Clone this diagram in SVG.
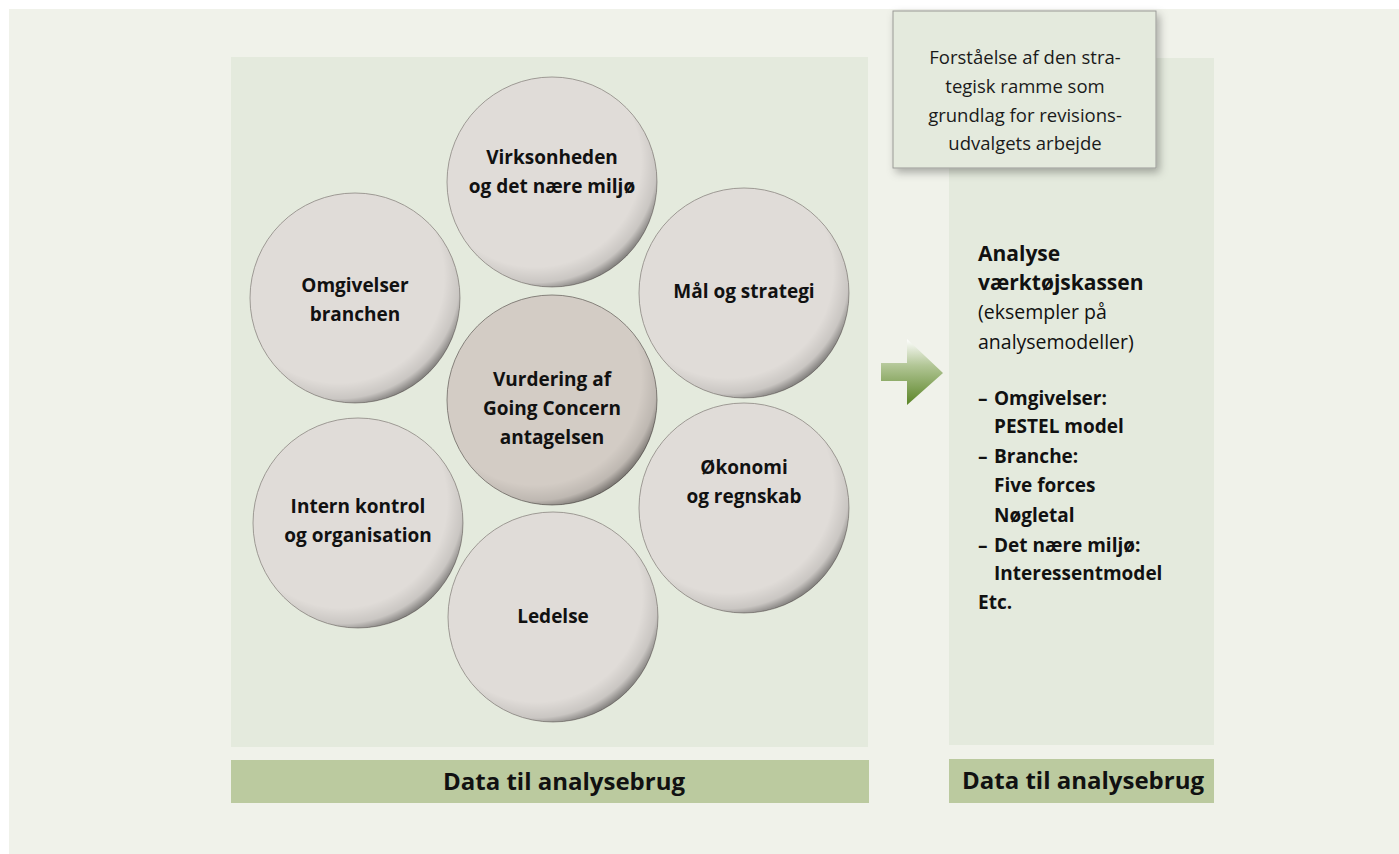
<svg xmlns="http://www.w3.org/2000/svg" width="1399" height="854" viewBox="0 0 1399 854">
  <style>
    .panel { fill: #E4EADD; }
    .bar { fill: #BBCA9F; }
    .bartext { font-family: "Open Sans", "Noto Sans", sans-serif; font-weight: 700; font-size: 24px; fill: #111; text-anchor: middle; }
    .ctext { font-family: "Open Sans", "Noto Sans", sans-serif; font-weight: 700; font-size: 19px; fill: #111; text-anchor: middle; }
    .boxtext { font-family: "Open Sans", "Noto Sans", sans-serif; font-size: 18.5px; fill: #1a1a1a; text-anchor: middle; }
    .rt { font-family: "Open Sans", "Noto Sans", sans-serif; font-size: 19.5px; fill: #111; }
    .rb { font-weight: 700; font-size: 19px; }
    .rh { font-weight: 700; font-size: 21px; }
    .disc { fill: #E0DCD8; stroke: #8C8782; stroke-width: 0.8; }
    .disc.core { fill: #D3CCC5; stroke: #6E6964; }
    .rim { fill: url(#rimShade); }
  </style>
  <defs>
    <!-- offset focus: shading gathers on the lower-right edge -->
    <radialGradient id="rimShade" cx="0.42" cy="0.40" r="0.63">
      <stop offset="0.80" stop-color="#000" stop-opacity="0"/>
      <stop offset="0.92" stop-color="#000" stop-opacity="0.10"/>
      <stop offset="1" stop-color="#000" stop-opacity="0.45"/>
    </radialGradient>
    <linearGradient id="arrowFill" x1="0" y1="339" x2="0" y2="405" gradientUnits="userSpaceOnUse">
      <stop offset="0" stop-color="#FFFFFF"/>
      <stop offset="0.4" stop-color="#B2C696"/>
      <stop offset="1" stop-color="#5B8527"/>
    </linearGradient>
    <filter id="boxShadow" x="-10%" y="-10%" width="125%" height="130%">
      <feDropShadow dx="3" dy="4" stdDeviation="4" flood-color="#000" flood-opacity="0.3"/>
    </filter>
  </defs>

  <!-- page background -->
  <rect x="0" y="0" width="1399" height="854" fill="#FFFFFF"/>
  <rect x="9" y="9" width="1390" height="845" fill="#F0F2EA"/>

  <!-- left panel and its caption bar -->
  <g id="data-panel-left">
    <rect class="panel" x="231" y="57" width="637" height="690"/>
    <rect class="bar" x="231" y="760" width="638" height="43"/>
    <text class="bartext" x="564" y="790">Data til analysebrug</text>
  </g>

  <!-- right panel and its caption bar -->
  <g id="data-panel-right">
    <rect class="panel" x="949" y="58" width="265" height="687"/>
    <rect class="bar" x="949" y="759" width="265" height="44"/>
    <text class="bartext" x="1083" y="789">Data til analysebrug</text>
  </g>

  <!-- ring of topics -->
  <g id="node-virksomheden">
    <circle class="disc" cx="552" cy="182" r="105"/>
    <circle class="rim" cx="552" cy="182" r="105"/>
    <text class="ctext" x="552" y="164">Virksonheden</text>
    <text class="ctext" x="552" y="193">og det nære miljø</text>
  </g>
  <g id="node-omgivelser">
    <circle class="disc" cx="355" cy="298" r="105"/>
    <circle class="rim" cx="355" cy="298" r="105"/>
    <text class="ctext" x="355" y="292">Omgivelser</text>
    <text class="ctext" x="355" y="321">branchen</text>
  </g>
  <g id="node-maal">
    <circle class="disc" cx="744" cy="293" r="105"/>
    <circle class="rim" cx="744" cy="293" r="105"/>
    <text class="ctext" x="744" y="298">Mål og strategi</text>
  </g>
  <g id="node-intern">
    <circle class="disc" cx="358" cy="523" r="105"/>
    <circle class="rim" cx="358" cy="523" r="105"/>
    <text class="ctext" x="358" y="513">Intern kontrol</text>
    <text class="ctext" x="358" y="542">og organisation</text>
  </g>
  <g id="node-oekonomi">
    <circle class="disc" cx="744" cy="508" r="105"/>
    <circle class="rim" cx="744" cy="508" r="105"/>
    <text class="ctext" x="744" y="474">Økonomi</text>
    <text class="ctext" x="744" y="503">og regnskab</text>
  </g>
  <g id="node-ledelse">
    <circle class="disc" cx="553" cy="617" r="105"/>
    <circle class="rim" cx="553" cy="617" r="105"/>
    <text class="ctext" x="553" y="623">Ledelse</text>
  </g>
  <g id="node-going-concern">
    <circle class="disc core" cx="552" cy="400" r="105"/>
    <circle class="rim" cx="552" cy="400" r="105"/>
    <text class="ctext" x="552" y="386">Vurdering af</text>
    <text class="ctext" x="552" y="415">Going Concern</text>
    <text class="ctext" x="552" y="444">antagelsen</text>
  </g>

  <!-- connector: block arrow between panels -->
  <g id="connectors">
    <polygon points="881,363 907,363 907,339 943,373 907,405 907,381 881,381" fill="url(#arrowFill)"/>
  </g>

  <!-- purpose box -->
  <g id="node-purpose">
    <rect x="893" y="11" width="263" height="157" fill="#E4EADD" stroke="#9A9A96" stroke-width="1" filter="url(#boxShadow)"/>
    <text class="boxtext" x="1025" y="64">Forståelse af den stra-</text>
    <text class="boxtext" x="1025" y="93">tegisk ramme som</text>
    <text class="boxtext" x="1025" y="122">grundlag for revisions-</text>
    <text class="boxtext" x="1025" y="150">udvalgets arbejde</text>
  </g>

  <!-- toolbox list -->
  <g id="node-toolbox">
    <text class="rt rh" x="978" y="261">Analyse</text>
    <text class="rt rh" x="978" y="290">værktøjskassen</text>
    <text class="rt" x="978" y="319">(eksempler på</text>
    <text class="rt" x="978" y="349">analysemodeller)</text>
    <text class="rt rb" x="978" y="405">–</text>
    <text class="rt rb" x="994" y="405">Omgivelser:</text>
    <text class="rt rb" x="994" y="433">PESTEL model</text>
    <text class="rt rb" x="978" y="463">–</text>
    <text class="rt rb" x="994" y="463">Branche:</text>
    <text class="rt rb" x="994" y="492">Five forces</text>
    <text class="rt rb" x="994" y="522">Nøgletal</text>
    <text class="rt rb" x="978" y="552">–</text>
    <text class="rt rb" x="994" y="552">Det nære miljø:</text>
    <text class="rt rb" x="994" y="580">Interessentmodel</text>
    <text class="rt rb" x="978" y="609">Etc.</text>
  </g>
</svg>
